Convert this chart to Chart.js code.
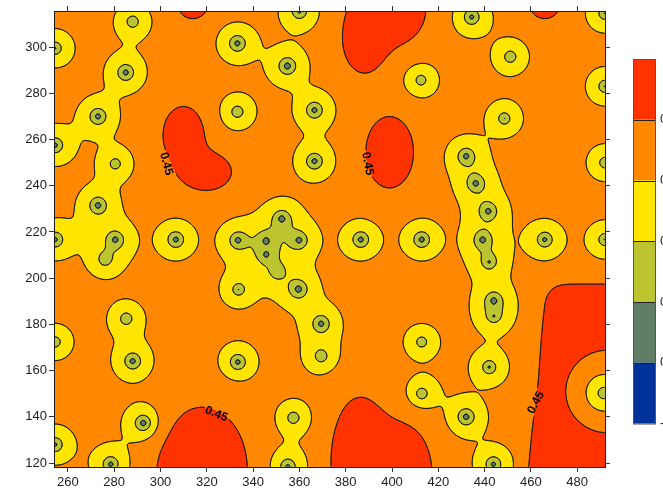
<!DOCTYPE html>
<html><head><meta charset="utf-8">
<script src="https://cdn.jsdelivr.net/npm/chart.js@4.4.1/dist/chart.umd.min.js"></script>
<style>html,body{margin:0;padding:0;background:#fff;overflow:hidden}</style>
</head><body>
<canvas id="c" width="663" height="489"></canvas>
<script>
// ---------- data ----------
const sampleX = [288,254.5,285,273,254.5,280.5,273,280.5,254.5,276,306.6,333.2,354.8,366.5,366.5,333.2,360,333.4,345.6,345.6,350.5,352.4,359.9,333.7,359.6,369.4,369.4,333.4,285.2,288,254.5,292.6,254.5,278.5,357.4,355,434.4,451.1,412.5,492,492,448.5,432,436.2,441.6,439.1,442,444,444,386.5,412.8,466,492,492,412.8,442,412.8,432,443.8,491.5];
const sampleY = [311,299.5,289,270,257.5,249.5,231.5,216.7,216.7,208,216.7,301.6,291.8,272.7,250.6,272,315.5,216.4,216.4,210,202.7,225.8,216.4,195.1,195.2,180.3,166.2,163.7,182.5,164.1,172.4,137.3,128,119.5,139.6,118.5,313,295.8,285.7,314.6,283,269.1,252.8,241,229,216.6,207,190.4,183.5,216.7,216.7,216.7,250,216.7,172.4,161.5,150,140,119.5,150.3];
const sampleValue = [0.297,0.29,0.265,0.265,0.272,0.305,0.262,0.265,0.272,0.297,0.265,0.265,0.258,0.265,0.265,0.297,0.275,0.265,0.272,0.278,0.297,0.262,0.265,0.297,0.258,0.265,0.297,0.268,0.297,0.265,0.303,0.26,0.278,0.27,0.297,0.272,0.272,0.297,0.305,0.29,0.29,0.297,0.265,0.265,0.265,0.265,0.285,0.265,0.29,0.265,0.265,0.272,0.3,0.29,0.305,0.285,0.297,0.262,0.272,0.295];

// background trend (high zones, the red areas)
const BASE_LEVEL = 0.415;
const RANGE_LENGTH = 4.0;
const highX   = [310, 320, 399, 388, 399, 318, 386, 405, 314, 466];
const highY   = [262, 246, 254.5, 302, 316, 116, 120, 115, 319, 319];
const highAmp = [0.09, 0.085, 0.105, 0.1, 0.12, 0.14, 0.12, 0.09, 0.0875, 0.0875];
const highSx  = [6.5, 8, 7, 6, 10, 12, 8, 9, 5, 5];
const highSy  = [9, 6, 10.5, 9, 10, 17, 18, 16, 5, 5];
const plateauAmp = 0.21, plateauEdgeX = 462, plateauEdgeSlope = 0.1, plateauEdgeY = 118, plateauTopY = 194.3, plateauSoft = 2;
const holeX = 493, holeY = 151, holeR = 27;

const contourLevels = [0.25, 0.30, 0.35, 0.40, 0.45];
const levelColors = ['#003399', '#607D66', '#BCC52F', '#FFE500', '#FF8800', '#FF3300'];
const colorbarLabels = ['0.45', '0.40', '0.35', '0.30', '0.25', '-0.20'];
const xTicks = [260, 280, 300, 320, 340, 360, 380, 400, 420, 440, 460, 480];
const yTicks = [120, 140, 160, 180, 200, 220, 240, 260, 280, 300];
const xRange = [254, 492];
const yRange = [118.3, 315.6];
const labelText = '0.45';
const labelX = [302.9, 389.9, 324.3, 461.8];
const labelY = [249.6, 249.6, 141.6, 146.4];
const labelAngle = [75, 80, 22, -62];

const FONT = "'Liberation Sans', Arial, sans-serif";

// ---------- interpolation (simple kriging with exponential covariance) ----------
function trend(x, y) {
  let t = BASE_LEVEL;
  for (let j = 0; j < highX.length; j++) {
    const dx = (x - highX[j]) / highSx[j], dy = (y - highY[j]) / highSy[j];
    t += highAmp[j] * Math.exp(-0.5 * (dx * dx + dy * dy));
  }
  const ex = plateauEdgeX + plateauEdgeSlope * (y - plateauEdgeY);
  const s1 = 1 / (1 + Math.exp(-(x - ex) / plateauSoft));
  const s2 = 1 / (1 + Math.exp(-(plateauTopY - y) / plateauSoft));
  const hr = Math.hypot(x - holeX, y - holeY) / holeR;
  const hole = 1 - Math.exp(-(hr * hr * hr * hr));
  return t + plateauAmp * s1 * s2 * hole;
}
function solveWeights() {
  const n = sampleX.length;
  const A = [];
  for (let i = 0; i < n; i++) {
    const row = new Float64Array(n + 1);
    for (let j = 0; j < n; j++) {
      row[j] = Math.exp(-Math.hypot(sampleX[i] - sampleX[j], sampleY[i] - sampleY[j]) / RANGE_LENGTH);
    }
    row[n] = sampleValue[i] - trend(sampleX[i], sampleY[i]);
    A.push(row);
  }
  for (let c = 0; c < n; c++) {
    let p = c;
    for (let r = c + 1; r < n; r++) if (Math.abs(A[r][c]) > Math.abs(A[p][c])) p = r;
    [A[c], A[p]] = [A[p], A[c]];
    for (let r = 0; r < n; r++) {
      if (r === c) continue;
      const f = A[r][c] / A[c][c];
      if (f === 0) continue;
      for (let k = c; k <= n; k++) A[r][k] -= f * A[c][k];
    }
  }
  return A.map((row, i) => row[n] / row[i]);
}
function hexToRgb(h) { return [parseInt(h.slice(1, 3), 16), parseInt(h.slice(3, 5), 16), parseInt(h.slice(5, 7), 16)]; }

const EDGES = [[], [[3, 2]], [[2, 1]], [[3, 1]], [[0, 1]], [[3, 0], [2, 1]], [[0, 2]], [[3, 0]], [[3, 0]], [[0, 2]], [[3, 2], [0, 1]], [[0, 1]], [[3, 1]], [[2, 1]], [[3, 2]], []];

const fieldPlugin = {
  id: 'krigedField',
  beforeDatasetsDraw(chart) {
    const { ctx, chartArea: a, scales: { x: sx, y: sy } } = chart;
    const x0 = Math.round(a.left), y0 = Math.round(a.top);
    const W = Math.round(a.right) - x0, H = Math.round(a.bottom) - y0;
    const alpha = solveWeights();
    const n = sampleX.length;
    const xv = new Float64Array(W), yv = new Float64Array(H);
    for (let i = 0; i < W; i++) xv[i] = sx.getValueForPixel(x0 + i + 0.5);
    for (let j = 0; j < H; j++) yv[j] = sy.getValueForPixel(y0 + j + 0.5);
    const F = new Float32Array(W * H);
    for (let j = 0; j < H; j++) {
      const yy = yv[j];
      for (let i = 0; i < W; i++) {
        const xx = xv[i];
        let f = trend(xx, yy);
        for (let k = 0; k < n; k++) {
          const dx = xx - sampleX[k], dy = yy - sampleY[k];
          const d2 = dx * dx + dy * dy;
          if (d2 < 2000) f += alpha[k] * Math.exp(-Math.sqrt(d2) / RANGE_LENGTH);
        }
        F[j * W + i] = f;
      }
    }
    const rgb = levelColors.map(hexToRgb);
    const img = ctx.createImageData(W, H);
    for (let p = 0; p < W * H; p++) {
      let b = 0;
      while (b < contourLevels.length && F[p] >= contourLevels[b]) b++;
      const c = rgb[b];
      img.data[p * 4] = c[0]; img.data[p * 4 + 1] = c[1]; img.data[p * 4 + 2] = c[2]; img.data[p * 4 + 3] = 255;
    }
    ctx.putImageData(img, x0, y0);

    ctx.save();
    ctx.font = 'bold 12px ' + FONT;
    const tw = ctx.measureText(labelText).width;
    ctx.beginPath();
    ctx.rect(a.left, a.top, a.right - a.left, a.bottom - a.top);
    const boxes = labelX.map((lx, i) => ({ px: sx.getPixelForValue(lx), py: sy.getPixelForValue(labelY[i]), ang: labelAngle[i] * Math.PI / 180 }));
    boxes.forEach(b => {
      const hw = tw / 2 + 2, hh = 6;
      const cs = Math.cos(b.ang), sn = Math.sin(b.ang);
      const pts = [[-hw, -hh], [hw, -hh], [hw, hh], [-hw, hh]].map(([u, v]) => [b.px + u * cs - v * sn, b.py + u * sn + v * cs]);
      ctx.moveTo(pts[0][0], pts[0][1]);
      for (let q = 3; q >= 1; q--) ctx.lineTo(pts[q][0], pts[q][1]);
      ctx.closePath();
    });
    ctx.clip('evenodd');
    ctx.strokeStyle = '#1a1a1a';
    ctx.lineWidth = 0.9;
    ctx.lineCap = 'round';
    ctx.lineJoin = 'round';
    for (const L of contourLevels) {
      ctx.beginPath();
      for (let j = 0; j < H - 1; j++) {
        for (let i = 0; i < W - 1; i++) {
          const fa = F[j * W + i], fb = F[j * W + i + 1], fc = F[(j + 1) * W + i + 1], fd = F[(j + 1) * W + i];
          const idx = (fa >= L ? 8 : 0) | (fb >= L ? 4 : 0) | (fc >= L ? 2 : 0) | (fd >= L ? 1 : 0);
          if (idx === 0 || idx === 15) continue;
          const pt = e => {
            let t;
            if (e === 0) { t = (L - fa) / (fb - fa); return [i + t, j]; }
            if (e === 1) { t = (L - fb) / (fc - fb); return [i + 1, j + t]; }
            if (e === 2) { t = (L - fd) / (fc - fd); return [i + t, j + 1]; }
            t = (L - fa) / (fd - fa); return [i, j + t];
          };
          for (const [e1, e2] of EDGES[idx]) {
            const p1 = pt(e1), p2 = pt(e2);
            ctx.moveTo(x0 + 0.5 + p1[0], y0 + 0.5 + p1[1]);
            ctx.lineTo(x0 + 0.5 + p2[0], y0 + 0.5 + p2[1]);
          }
        }
      }
      ctx.stroke();
    }
    ctx.restore();

    ctx.save();
    ctx.font = 'bold 12px ' + FONT;
    ctx.fillStyle = '#000';
    ctx.textAlign = 'center';
    ctx.textBaseline = 'middle';
    boxes.forEach(b => {
      ctx.save();
      ctx.translate(b.px, b.py);
      ctx.rotate(b.ang);
      ctx.fillText(labelText, 0, 1);
      ctx.restore();
    });
    ctx.restore();
  },
  afterDraw(chart) {
    const { ctx, chartArea: a } = chart;
    const bx = a.right + 28, by = 59, bw = 22, bh = 364.5;
    const segH = bh / levelColors.length;
    ctx.save();
    for (let s = 0; s < levelColors.length; s++) {
      ctx.fillStyle = levelColors[levelColors.length - 1 - s];
      ctx.fillRect(bx, by + s * segH, bw, segH);
    }
    ctx.strokeStyle = '#222';
    ctx.lineWidth = 1;
    for (let s = 1; s < levelColors.length; s++) {
      const yy = Math.round(by + s * segH) + 0.5;
      ctx.beginPath(); ctx.moveTo(bx, yy); ctx.lineTo(bx + bw, yy); ctx.stroke();
    }
    ctx.strokeStyle = '#555';
    ctx.strokeRect(bx + 0.5, by + 0.5, bw, bh);
    ctx.fillStyle = '#222';
    ctx.font = '13px ' + FONT;
    ctx.textAlign = 'left';
    ctx.textBaseline = 'middle';
    colorbarLabels.forEach((t, s) => ctx.fillText(t, bx + bw + 5, by + (s + 1) * segH));
    ctx.restore();
  }
};

function axis(ax, position, showLabels, ticksArr, range, size) {
  return {
    type: 'linear', axis: ax, position, min: range[0], max: range[1],
    afterBuildTicks: s => { s.ticks = ticksArr.map(v => ({ value: v })); },
    afterFit: s => { if (ax === 'x') s.height = size; else s.width = size; },
    grid: { drawOnChartArea: false, drawTicks: true, tickLength: 5, tickColor: '#333', color: '#333' },
    border: { display: true, color: '#1a1a1a', width: 1, z: 1 },
    ticks: { display: showLabels, color: '#222', font: { family: FONT, size: 13 }, padding: ax === 'x' ? 3 : 2, maxRotation: 0, autoSkip: false }
  };
}

new Chart(document.getElementById('c'), {
  type: 'scatter',
  data: { datasets: [{ data: sampleX.map((x, i) => ({ x, y: sampleY[i], v: sampleValue[i] })), pointRadius: 0 }] },
  options: {
    responsive: false, animation: false, devicePixelRatio: 1,
    layout: { padding: { left: 0, right: 51, top: 0, bottom: 0 } },
    plugins: { legend: { display: false }, tooltip: { enabled: false } },
    scales: {
      x: axis('x', 'bottom', true, xTicks, xRange, 22),
      x2: axis('x', 'top', false, xTicks, xRange, 11),
      y: axis('y', 'left', true, yTicks, yRange, 54),
      y2: axis('y', 'right', false, yTicks, yRange, 7)
    }
  },
  plugins: [fieldPlugin]
});
</script>
</body></html>
